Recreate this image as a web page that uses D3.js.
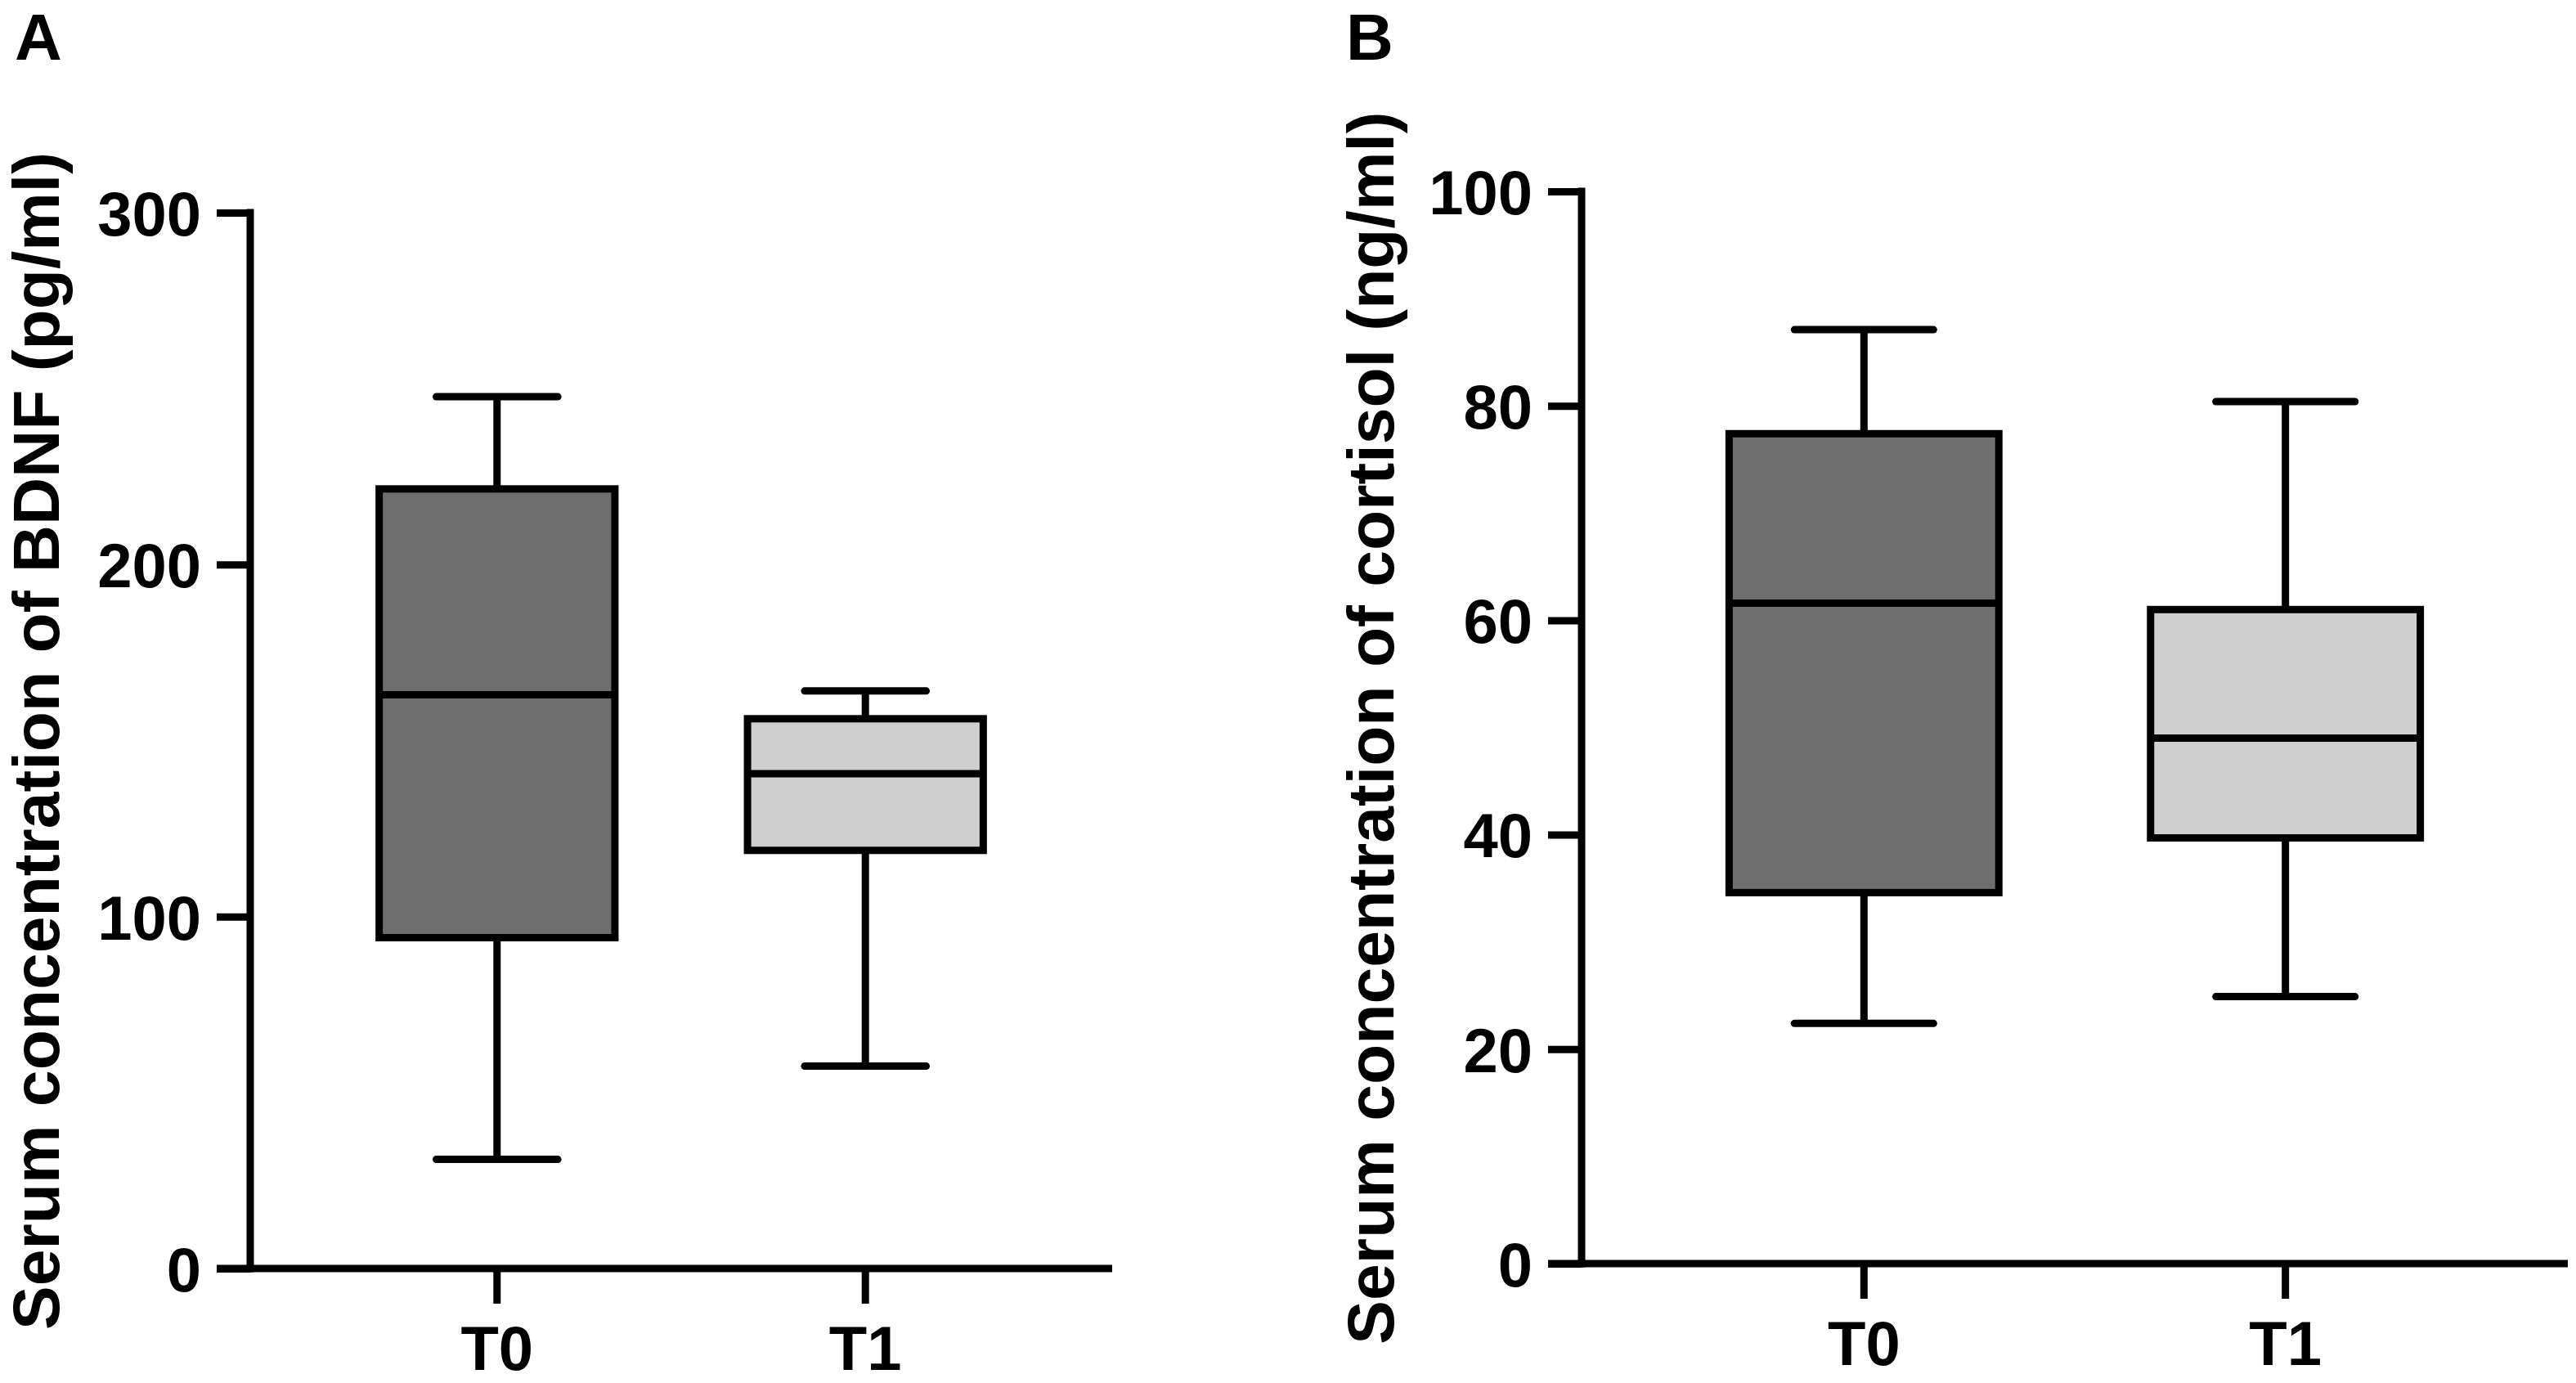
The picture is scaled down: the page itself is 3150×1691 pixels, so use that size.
<!DOCTYPE html>
<html>
<head>
<meta charset="utf-8">
<script src="https://d3js.org/d3.v7.min.js"></script>
<style>
  body { margin: 0; background: #fff; }
  svg text { font-family: "Liberation Sans", Arial, sans-serif; font-weight: bold; fill: #000; }
</style>
</head>
<body>
<div id="chart"></div>
<script>
// groups on the x axis
const categories = ['T0', 'T1'];

// panel A: BDNF (pg/ml), box = q1..q3, whiskers = min..max
const bdnfMin = [31, 57.5];
const bdnfQ1 = [94, 118.8];
const bdnfMedian = [163, 140.6];
const bdnfQ3 = [221.5, 156.2];
const bdnfMax = [247.7, 164.1];
const bdnfTicks = [0, 100, 200, 300];

// panel B: cortisol (ng/ml)
const cortMin = [22.4, 24.9];
const cortQ1 = [34.6, 39.7];
const cortMedian = [61.6, 49.0];
const cortQ3 = [77.4, 61.0];
const cortMax = [87.1, 80.4];
const cortTicks = [0, 20, 40, 60, 80, 100];

const fills = ['#6e6e6e', '#cfcfcf'];

const width = 3150;
const height = 1691;

const svg = d3.select('#chart')
    .append('svg')
    .attr('width', width)
    .attr('height', height)
    .attr('xmlns', 'http://www.w3.org/2000/svg');

function drawPanel(opts) {
    const g = svg.append('g').attr('transform', `translate(${opts.left},0)`);
    const plotW = opts.right - opts.left;

    const x = d3.scaleBand()
        .domain(categories)
        .range([0, plotW])
        .paddingInner(0.36)
        .paddingOuter(0.35);

    const y = d3.scaleLinear()
        .domain([0, d3.max(opts.ticks)])
        .range([opts.bottom, opts.top]);

    const rows = categories.map((c, i) => ({
        cat: c, min: opts.min[i], q1: opts.q1[i], med: opts.median[i],
        q3: opts.q3[i], max: opts.max[i], fill: fills[i]
    }));

    const lw = 9;
    const capW = x.step() * 0.33;

    // y axis
    const yAxis = g.append('g')
        .call(d3.axisLeft(y).tickValues(opts.ticks).tickSize(41).tickPadding(19).tickFormat(d3.format('d')));
    yAxis.select('.domain').remove();
    yAxis.selectAll('line').attr('stroke', '#000').attr('stroke-width', lw);
    yAxis.selectAll('text').attr('font-size', 76).attr('dy', '0.36em');
    g.append('line')
        .attr('x1', 0).attr('x2', 0)
        .attr('y1', y(0)).attr('y2', y(d3.max(opts.ticks)))
        .attr('stroke', '#000').attr('stroke-width', lw)
        .attr('stroke-linecap', 'square');

    // x axis
    const xAxis = g.append('g')
        .attr('transform', `translate(0,${y(0)})`)
        .call(d3.axisBottom(x).tickSize(43).tickPadding(27));
    xAxis.select('.domain').remove();
    xAxis.selectAll('line').attr('stroke', '#000').attr('stroke-width', lw);
    xAxis.selectAll('text').attr('font-size', 76);
    g.append('line')
        .attr('x1', -41).attr('x2', plotW)
        .attr('y1', y(0)).attr('y2', y(0))
        .attr('stroke', '#000').attr('stroke-width', lw);

    const box = g.selectAll('.box')
        .data(rows)
        .enter().append('g')
        .attr('class', 'box');

    const cx = d => x(d.cat) + x.bandwidth() / 2;

    // whiskers
    box.append('line')
        .attr('x1', cx).attr('x2', cx)
        .attr('y1', d => y(d.max)).attr('y2', d => y(d.min))
        .attr('stroke', '#000').attr('stroke-width', lw);

    // caps
    ['min', 'max'].forEach(k => {
        box.append('line')
            .attr('x1', d => cx(d) - capW / 2).attr('x2', d => cx(d) + capW / 2)
            .attr('y1', d => y(d[k])).attr('y2', d => y(d[k]))
            .attr('stroke', '#000').attr('stroke-width', lw)
            .attr('stroke-linecap', 'round');
    });

    // boxes
    box.append('rect')
        .attr('x', d => x(d.cat))
        .attr('y', d => y(d.q3))
        .attr('width', x.bandwidth())
        .attr('height', d => y(d.q1) - y(d.q3))
        .attr('fill', d => d.fill)
        .attr('stroke', '#000').attr('stroke-width', lw);

    // medians
    box.append('line')
        .attr('x1', d => x(d.cat)).attr('x2', d => x(d.cat) + x.bandwidth())
        .attr('y1', d => y(d.med)).attr('y2', d => y(d.med))
        .attr('stroke', '#000').attr('stroke-width', lw);

    // axis title
    svg.append('text')
        .attr('transform', `translate(${opts.titleX},${opts.titleY}) rotate(-90)`)
        .attr('text-anchor', 'middle')
        .attr('font-size', 80.5)
        .text(opts.title);

    // panel letter
    svg.append('text')
        .attr('x', opts.letterX)
        .attr('y', 73)
        .attr('font-size', 80)
        .text(opts.letter);
}

drawPanel({
    left: 306, right: 1360, top: 260, bottom: 1551,
    ticks: bdnfTicks,
    min: bdnfMin, q1: bdnfQ1, median: bdnfMedian, q3: bdnfQ3, max: bdnfMax,
    title: 'Serum concentration of BDNF (pg/ml)',
    titleX: 72, titleY: 906,
    letter: 'A', letterX: 18
});

drawPanel({
    left: 1934, right: 3140, top: 234, bottom: 1545,
    ticks: cortTicks,
    min: cortMin, q1: cortQ1, median: cortMedian, q3: cortQ3, max: cortMax,
    title: 'Serum concentration of cortisol (ng/ml)',
    titleX: 1704, titleY: 890,
    letter: 'B', letterX: 1646
});
</script>
</body>
</html>
